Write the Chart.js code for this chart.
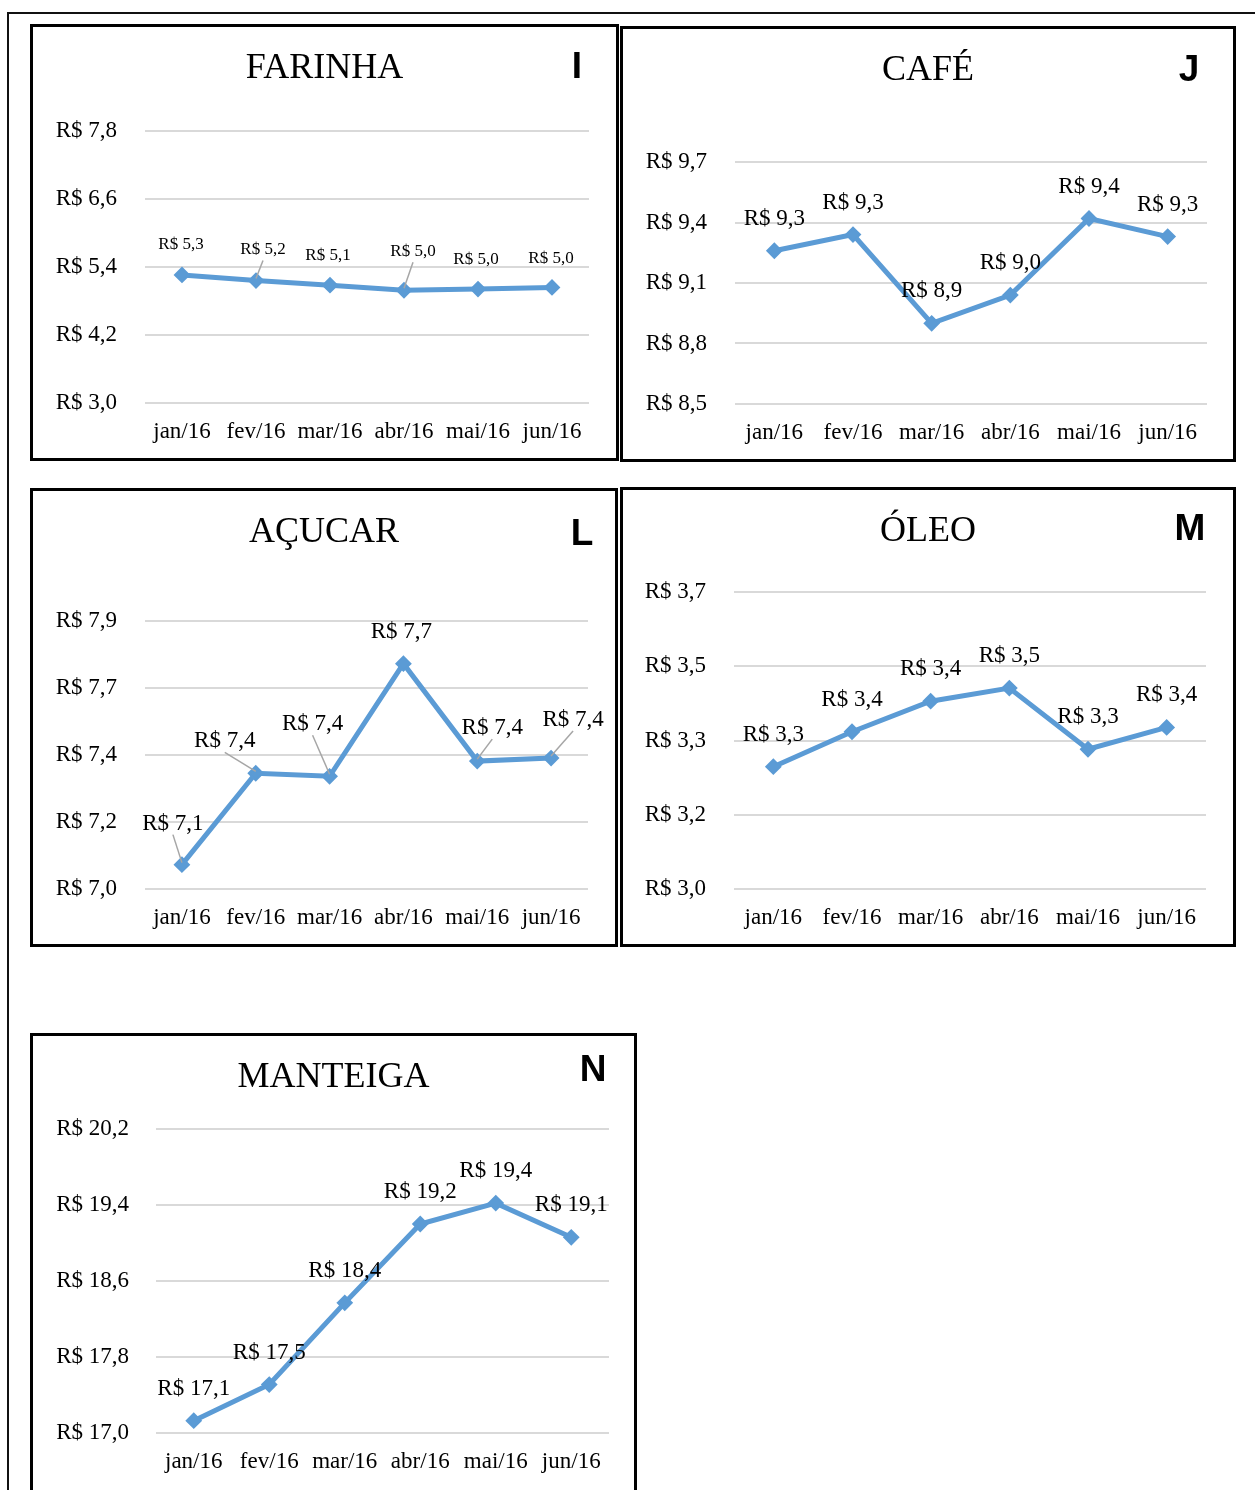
<!DOCTYPE html>
<html lang="pt-BR">
<head>
<meta charset="utf-8">
<title>Preços — jan/16 a jun/16</title>
<script src="https://cdn.jsdelivr.net/npm/chart.js@4.4.1/dist/chart.umd.min.js"></script>
<style>
  html, body { margin: 0; padding: 0; background: #fff; }
  body { width: 1255px; height: 1490px; position: relative; overflow: hidden; }
  .frame-top  { position: absolute; left: 7px; top: 12px; width: 1260px; height: 2px; background: #111; }
  .frame-left { position: absolute; left: 7px; top: 12px; width: 2px; height: 1500px; background: #111; }
  .panel { position: absolute; box-sizing: border-box; border: 3px solid #000; background: #fff; }
  .panel canvas { display: block; }
</style>
</head>
<body>
<div class="frame-top"></div>
<div class="frame-left"></div>

<script>
'use strict';

/* ── Data ── */
const MONTHS = ['jan/16', 'fev/16', 'mar/16', 'abr/16', 'mai/16', 'jun/16'];

const farinhaValues  = [5.26, 5.16, 5.08, 4.99, 5.01, 5.04];
const cafeValues     = [9.26, 9.34, 8.90, 9.04, 9.42, 9.33];
const acucarValues   = [7.08, 7.38, 7.37, 7.74, 7.42, 7.43];
const oleoValues     = [3.28, 3.36, 3.43, 3.46, 3.32, 3.37];
const manteigaValues = [17.13, 17.51, 18.37, 19.20, 19.42, 19.06];

/* tick labels as printed, bottom → top */
const farinhaTicks  = ['R$ 3,0', 'R$ 4,2', 'R$ 5,4', 'R$ 6,6', 'R$ 7,8'];
const cafeTicks     = ['R$ 8,5', 'R$ 8,8', 'R$ 9,1', 'R$ 9,4', 'R$ 9,7'];
const acucarTicks   = ['R$ 7,0', 'R$ 7,2', 'R$ 7,4', 'R$ 7,7', 'R$ 7,9'];
const oleoTicks     = ['R$ 3,0', 'R$ 3,2', 'R$ 3,3', 'R$ 3,5', 'R$ 3,7'];
const manteigaTicks = ['R$ 17,0', 'R$ 17,8', 'R$ 18,6', 'R$ 19,4', 'R$ 20,2'];

/* axis [min, step] */
const farinhaAxis  = [3.0, 1.2];
const cafeAxis     = [8.5, 0.3];
const acucarAxis   = [7.0, 0.22];
const oleoAxis     = [3.0, 0.17];
const manteigaAxis = [17.0, 0.8];

/* ── Theme ── */
const SERIF = '"Liberation Serif", "Times New Roman", serif';
const C = {
  line:   '#5B9BD5',
  grid:   '#D9D9D9',
  text:   '#000',
  leader: '#A6A6A6',
};

Chart.defaults.font.family = SERIF;
Chart.defaults.color = C.text;

const fmt = v => 'R$ ' + v.toFixed(1).replace('.', ',');

/* ── Panels (page coords: box = [left, top, width, height], area = [l, t, r, b]) ── */
const PANELS = [
  { title: 'FARINHA', tag: 'I', values: farinhaValues, ticks: farinhaTicks, axis: farinhaAxis,
    box: [30, 24, 589, 437], area: [145, 131, 589, 403], tagAt: [577, 68], labelSize: 17, yPad: 28,
    offsets: [[-1, -30], [7, -31], [-2, -30], [9, -39], [-2, -30], [-1, -29]],
    leaders: [0, 1, 0, 1, 0, 0] },
  { title: 'CAFÉ', tag: 'J', values: cafeValues, ticks: cafeTicks, axis: cafeAxis,
    box: [620, 26, 616, 436], area: [735, 162, 1207, 404], tagAt: [1189, 71], labelSize: 23, yPad: 28 },
  { title: 'AÇUCAR', tag: 'L', values: acucarValues, ticks: acucarTicks, axis: acucarAxis,
    box: [30, 488, 588, 459], area: [145, 621, 588, 889], tagAt: [582, 535], labelSize: 23, yPad: 28,
    offsets: [[-9, -41], [-31, -32], [-17, -52], [-2, -32], [15, -33], [22, -38]],
    leaders: [1, 1, 1, 0, 1, 1] },
  { title: 'ÓLEO', tag: 'M', values: oleoValues, ticks: oleoTicks, axis: oleoAxis,
    box: [620, 487, 616, 460], area: [734, 592, 1206, 889], tagAt: [1190, 530], labelSize: 23, yPad: 28 },
  { title: 'MANTEIGA', tag: 'N', values: manteigaValues, ticks: manteigaTicks, axis: manteigaAxis,
    box: [30, 1033, 607, 470], area: [156, 1129, 609, 1433], tagAt: [593, 1071], labelSize: 23, yPad: 27 },
];

/* ── Data labels, leader lines and corner letter ── */
const priceLabels = {
  id: 'priceLabels',
  afterDatasetsDraw(chart, args, opts) {
    const { ctx } = chart;
    const meta = chart.getDatasetMeta(0);
    const data = chart.data.datasets[0].data;
    ctx.save();
    ctx.textAlign = 'center';
    ctx.textBaseline = 'middle';
    ctx.font = `${opts.size}px ${SERIF}`;
    meta.data.forEach((pt, i) => {
      const [dx, dy] = opts.offsets ? opts.offsets[i] : [0, -32];
      const lx = pt.x + dx, ly = pt.y + dy;
      if (opts.leaders && opts.leaders[i]) {
        ctx.strokeStyle = C.leader;
        ctx.lineWidth = 1.5;
        ctx.beginPath();
        ctx.moveTo(lx, ly + 11);
        ctx.lineTo(pt.x, pt.y - 2);
        ctx.stroke();
      }
      ctx.fillStyle = C.text;
      ctx.fillText(fmt(data[i]), lx, ly);
    });
    ctx.font = 'bold 37px "Liberation Sans", Arial, sans-serif';
    ctx.fillStyle = '#000';
    ctx.fillText(opts.tag, opts.tagX, opts.tagY);
    ctx.restore();
  },
};

function buildPanel(p) {
  const [bx, by, bw, bh] = p.box;
  const ox = bx + 3, oy = by + 3;          // canvas origin on page (inside border)
  const cw = bw - 6, ch = bh - 6;
  const al = p.area[0] - ox, at = p.area[1] - oy;
  const ar = p.area[2] - ox, ab = p.area[3] - oy;

  const [yMin, yStep] = p.axis;
  const yMax = Math.round((yMin + yStep * (p.ticks.length - 1)) * 1000) / 1000;

  const titleSize = 36;
  const titleTop = 42 - titleSize * 0.6;
  const titleBottom = at - titleTop - titleSize * 1.2;

  const div = document.createElement('div');
  div.className = 'panel';
  Object.assign(div.style, { left: bx + 'px', top: by + 'px', width: bw + 'px', height: bh + 'px' });
  const canvas = document.createElement('canvas');
  canvas.width = cw;
  canvas.height = ch;
  div.appendChild(canvas);
  document.body.appendChild(div);

  new Chart(canvas, {
    type: 'line',
    data: {
      labels: MONTHS,
      datasets: [{
        data: p.values,
        borderColor: C.line,
        backgroundColor: C.line,
        borderWidth: 5,
        pointStyle: 'rectRot',
        pointRadius: 7,
        pointBorderWidth: 2,
        pointBackgroundColor: C.line,
        pointBorderColor: C.line,
        tension: 0,
        fill: false,
      }],
    },
    options: {
      responsive: false,
      animation: false,
      events: [],
      layout: { padding: 0 },
      plugins: {
        legend: { display: false },
        tooltip: { enabled: false },
        title: {
          display: true,
          text: p.title,
          color: C.text,
          font: { family: SERIF, size: titleSize, weight: 'normal', lineHeight: 1.2 },
          padding: { top: titleTop, bottom: titleBottom },
        },
        priceLabels: {
          size: p.labelSize,
          offsets: p.offsets,
          leaders: p.leaders,
          tag: p.tag,
          tagX: p.tagAt[0] - ox,
          tagY: p.tagAt[1] - oy,
        },
      },
      scales: {
        x: {
          offset: true,
          grid: { display: false, drawTicks: false },
          border: { display: false },
          ticks: { color: C.text, font: { size: 23 }, padding: 15, maxRotation: 0, autoSkip: false },
          afterFit: s => { s.height = ch - ab; },
        },
        y: {
          min: yMin,
          max: yMax,
          grid: { color: C.grid, lineWidth: 2, drawTicks: false },
          border: { display: false },
          ticks: {
            stepSize: yStep,
            color: C.text,
            font: { size: 23 },
            padding: p.yPad,
            callback: (v, i) => p.ticks[i],
          },
          afterFit: s => { s.width = al; },
        },
        /* empty right gutter so the title stays centred on the panel */
        gutter: {
          type: 'linear',
          position: 'right',
          grid: { display: false, drawTicks: false },
          border: { display: false },
          ticks: { display: false },
          afterFit: s => { s.width = cw - ar; },
        },
      },
    },
    plugins: [priceLabels],
  });
}

PANELS.forEach(buildPanel);
</script>
</body>
</html>
